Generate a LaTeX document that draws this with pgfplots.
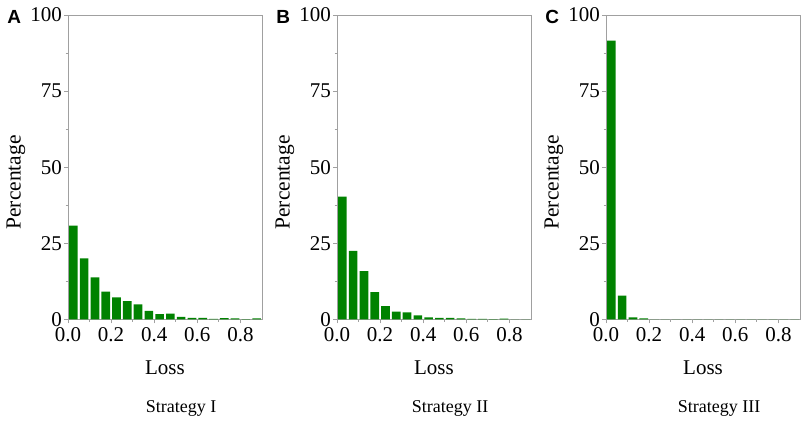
\documentclass[border=0pt]{standalone}
\usepackage{pgfplots}
\pgfplotsset{compat=1.18}
\usepackage{fontspec}
\setmainfont{Liberation Serif}
\newfontfamily\panelfont{Liberation Sans}
\definecolor{bargreen}{RGB}{0,130,0}
\definecolor{axgray}{RGB}{160,160,160}

\pgfplotstableread{
x y
0.025 30.8
0.075 20.0
0.125 13.8
0.175 9.1
0.225 7.2
0.275 6.0
0.325 4.9
0.375 2.8
0.425 1.7
0.475 1.9
0.525 0.8
0.575 0.5
0.625 0.5
0.675 0.1
0.725 0.35
0.775 0.3
0.825 0.05
0.875 0.3
}\dataA
\pgfplotstableread{
x y
0.025 40.3
0.075 22.5
0.125 15.8
0.175 8.9
0.225 4.3
0.275 2.5
0.325 2.3
0.375 1.3
0.425 0.65
0.475 0.5
0.525 0.45
0.575 0.3
0.625 0.1
0.675 0.15
0.725 0.05
0.775 0.25
0.825 0
0.875 0
}\dataB
\pgfplotstableread{
x y
0.025 91.6
0.075 7.8
0.125 0.6
0.175 0.3
0.225 0
0.275 0
0.325 0
0.375 0
0.425 0
0.475 0
0.525 0
0.575 0
0.625 0
0.675 0
0.725 0
0.775 0
0.825 0
0.875 0
}\dataC

\pgfplotsset{
  panel/.style={
    anchor=south west,
    scale only axis,
    width=194pt, height=304.3pt,
    xmin=0, xmax=0.9, ymin=0, ymax=100,
    xtick={0,0.2,0.4,0.6,0.8},
    ytick={0,25,50,75,100},
    minor x tick num=1, minor y tick num=1,
    xtick pos=bottom, ytick pos=left,
    tick align=outside,
    major tick length=4pt, minor tick length=2.5pt,
    axis line style={axgray, line width=0.8pt},
    every tick/.style={axgray, line width=0.8pt},
    /pgf/number format/assume math mode=true,
    xticklabel={\pgfmathprintnumber[fixed,fixed zerofill,precision=1]{\tick}},
    ticklabel style={font=\fontsize{21}{24}\selectfont, inner sep=2pt},
    xticklabel style={yshift=-2.5pt},
    ybar, bar width=0.04,
  }
}

\begin{document}
\begin{tikzpicture}
\path[use as bounding box] (0,0) rectangle (809pt,421pt);

\begin{axis}[panel, at={(68pt,101.7pt)}]
\addplot[fill=bargreen, draw=none] table[x=x,y=y] {\dataA};
\end{axis}
\begin{axis}[panel, at={(337pt,101.7pt)}]
\addplot[fill=bargreen, draw=none] table[x=x,y=y] {\dataB};
\end{axis}
\begin{axis}[panel, at={(606pt,101.7pt)}]
\addplot[fill=bargreen, draw=none] table[x=x,y=y] {\dataC};
\end{axis}

\foreach \ax/\lab/\strat in {68/A/I, 337/B/II, 606/C/III}{
  \node[font=\panelfont\bfseries\fontsize{19}{22}\selectfont] at (\ax pt-53.8pt, 404.3pt) {\lab};
  \node[rotate=90, font=\fontsize{21.5}{24}\selectfont] at (\ax pt-52pt, 238.5pt) {Percentage};
  \node[font=\fontsize{21}{24}\selectfont] at (\ax pt+97pt, 53pt) {Loss};
  \node[font=\fontsize{18}{21}\selectfont] at (\ax pt+113pt, 13pt) {Strategy \strat};
}
\end{tikzpicture}
\end{document}
